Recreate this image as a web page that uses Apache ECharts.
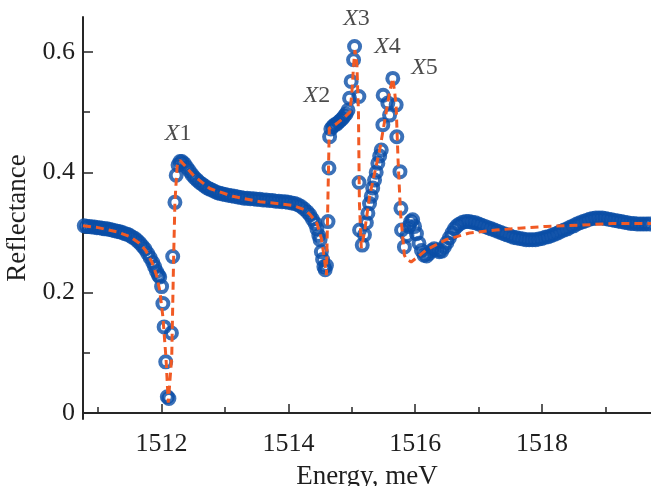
<!DOCTYPE html>
<html>
<head>
<meta charset="utf-8">
<script src="https://cdn.jsdelivr.net/npm/echarts@6/dist/echarts.min.js"></script>
<style>
	html, body { margin: 0; padding: 0; background: #fff; }
	#chart { width: 651px; height: 486px; }
</style>
</head>
<body>
<div id="chart"></div>
<script>
// Puntos medidos (energía meV, reflectancia)
const puntosMedidos = [
	[1510.78, 0.311], [1510.82, 0.310], [1510.86, 0.310], [1510.90, 0.309], [1510.94, 0.309],
	[1510.98, 0.308], [1511.02, 0.308], [1511.06, 0.307], [1511.10, 0.306], [1511.14, 0.306],
	[1511.18, 0.305], [1511.22, 0.304], [1511.26, 0.303], [1511.30, 0.302], [1511.34, 0.301],
	[1511.38, 0.300], [1511.42, 0.298], [1511.46, 0.297], [1511.50, 0.295], [1511.54, 0.292],
	[1511.58, 0.290], [1511.62, 0.286], [1511.66, 0.282], [1511.70, 0.277], [1511.74, 0.272],
	[1511.78, 0.265], [1511.82, 0.258], [1511.86, 0.250], [1511.89, 0.243], [1511.92, 0.235],
	[1511.95, 0.229], [1511.97, 0.226], [1512.00, 0.210], [1512.02, 0.182], [1512.04, 0.143],
	[1512.065, 0.085], [1512.09, 0.027], [1512.115, 0.024], [1512.155, 0.133], [1512.175, 0.260],
	[1512.21, 0.350], [1512.23, 0.395], [1512.26, 0.412], [1512.29, 0.418], [1512.32, 0.418],
	[1512.36, 0.414], [1512.40, 0.408], [1512.44, 0.402], [1512.48, 0.396], [1512.52, 0.391],
	[1512.56, 0.387], [1512.60, 0.383], [1512.64, 0.380], [1512.68, 0.377], [1512.72, 0.374],
	[1512.76, 0.372], [1512.80, 0.370], [1512.84, 0.368], [1512.88, 0.366], [1512.92, 0.365],
	[1512.96, 0.364], [1513.00, 0.363], [1513.05, 0.362], [1513.10, 0.361], [1513.15, 0.360],
	[1513.20, 0.359], [1513.25, 0.358], [1513.30, 0.357], [1513.35, 0.357], [1513.40, 0.356],
	[1513.45, 0.356], [1513.50, 0.355], [1513.55, 0.355], [1513.60, 0.354], [1513.65, 0.354],
	[1513.70, 0.353], [1513.75, 0.353], [1513.80, 0.352], [1513.85, 0.352], [1513.90, 0.351],
	[1513.95, 0.351], [1514.00, 0.350], [1514.05, 0.349], [1514.10, 0.348], [1514.15, 0.346],
	[1514.20, 0.343], [1514.25, 0.339], [1514.30, 0.334], [1514.34, 0.329], [1514.38, 0.322],
	[1514.42, 0.315], [1514.45, 0.306], [1514.48, 0.295], [1514.50, 0.288], [1514.52, 0.268],
	[1514.54, 0.255], [1514.56, 0.243], [1514.58, 0.238], [1514.60, 0.245], [1514.625, 0.318],
	[1514.64, 0.407], [1514.65, 0.459], [1514.67, 0.472], [1514.70, 0.476], [1514.73, 0.479],
	[1514.76, 0.480], [1514.79, 0.483], [1514.82, 0.486], [1514.85, 0.489], [1514.88, 0.493],
	[1514.91, 0.497], [1514.94, 0.503], [1514.965, 0.523], [1514.99, 0.551], [1515.028, 0.587],
	[1515.044, 0.609], [1515.112, 0.526], [1515.115, 0.383], [1515.123, 0.304], [1515.165, 0.279],
	[1515.20, 0.296], [1515.23, 0.316], [1515.254, 0.332], [1515.28, 0.348], [1515.307, 0.360],
	[1515.33, 0.374], [1515.359, 0.387], [1515.385, 0.400], [1515.411, 0.415], [1515.44, 0.427],
	[1515.465, 0.437], [1515.49, 0.479], [1515.495, 0.528], [1515.569, 0.515], [1515.596, 0.495],
	[1515.647, 0.556], [1515.70, 0.512], [1515.71, 0.459], [1515.76, 0.401], [1515.775, 0.340],
	[1515.785, 0.304], [1515.83, 0.276], [1515.87, 0.295], [1515.90, 0.310], [1515.93, 0.318],
	[1515.96, 0.321], [1515.99, 0.310], [1516.02, 0.298], [1516.06, 0.282], [1516.10, 0.270],
	[1516.14, 0.262], [1516.18, 0.261], [1516.22, 0.265], [1516.26, 0.270], [1516.30, 0.273],
	[1516.34, 0.271], [1516.38, 0.268], [1516.42, 0.269], [1516.46, 0.276], [1516.50, 0.283],
	[1516.54, 0.291], [1516.58, 0.299], [1516.62, 0.306], [1516.66, 0.311], [1516.70, 0.314],
	[1516.75, 0.317], [1516.80, 0.318], [1516.85, 0.318], [1516.90, 0.317], [1516.95, 0.316],
	[1517.00, 0.314], [1517.05, 0.312], [1517.10, 0.310], [1517.15, 0.308], [1517.20, 0.306],
	[1517.25, 0.304], [1517.30, 0.302], [1517.35, 0.300], [1517.40, 0.298], [1517.45, 0.296],
	[1517.50, 0.294], [1517.55, 0.292], [1517.60, 0.291], [1517.65, 0.290], [1517.70, 0.289],
	[1517.75, 0.288], [1517.80, 0.288], [1517.85, 0.288], [1517.90, 0.288], [1517.95, 0.289],
	[1518.00, 0.290], [1518.05, 0.292], [1518.10, 0.293], [1518.15, 0.295], [1518.20, 0.297],
	[1518.25, 0.299], [1518.30, 0.302], [1518.35, 0.304], [1518.40, 0.306], [1518.45, 0.309],
	[1518.50, 0.311], [1518.55, 0.314], [1518.60, 0.316], [1518.65, 0.318], [1518.70, 0.320],
	[1518.75, 0.322], [1518.80, 0.323], [1518.85, 0.324], [1518.90, 0.324], [1518.95, 0.324],
	[1519.00, 0.323], [1519.05, 0.322], [1519.10, 0.321], [1519.15, 0.320], [1519.20, 0.319],
	[1519.25, 0.318], [1519.30, 0.317], [1519.35, 0.316], [1519.40, 0.315], [1519.45, 0.315],
	[1519.50, 0.314], [1519.55, 0.314], [1519.60, 0.314], [1519.65, 0.314], [1519.70, 0.314]
]

// Curva de ajuste (línea naranja discontinua)
const curvaAjuste = [
	[1510.76, 0.311], [1511.0, 0.308], [1511.3, 0.301], [1511.5, 0.293], [1511.65, 0.282],
	[1511.75, 0.270], [1511.85, 0.250], [1511.92, 0.229], [1511.97, 0.204], [1512.02, 0.160],
	[1512.07, 0.090], [1512.105, 0.017], [1512.16, 0.094], [1512.19, 0.260], [1512.21, 0.350],
	[1512.245, 0.410], [1512.29, 0.420], [1512.35, 0.413], [1512.5, 0.395], [1512.76, 0.373],
	[1513.12, 0.360], [1513.55, 0.351], [1513.82, 0.348], [1514.07, 0.345], [1514.25, 0.338],
	[1514.34, 0.330], [1514.45, 0.315], [1514.52, 0.290], [1514.57, 0.255], [1514.60, 0.229],
	[1514.645, 0.473], [1514.75, 0.480], [1514.87, 0.490], [1514.97, 0.500], [1515.0, 0.530],
	[1515.03, 0.580], [1515.05, 0.603], [1515.08, 0.580], [1515.105, 0.500], [1515.12, 0.350],
	[1515.15, 0.274], [1515.20, 0.300], [1515.28, 0.360], [1515.44, 0.437], [1515.54, 0.498],
	[1515.60, 0.535], [1515.647, 0.556], [1515.68, 0.530], [1515.70, 0.509], [1515.73, 0.420],
	[1515.77, 0.330], [1515.83, 0.262], [1515.86, 0.256], [1515.937, 0.251], [1516.05, 0.260],
	[1516.173, 0.271], [1516.488, 0.288], [1516.855, 0.299], [1517.276, 0.304], [1517.642, 0.307],
	[1518.063, 0.310], [1518.598, 0.312], [1519.11, 0.315], [1519.72, 0.315]
]

// Etiquetas de los picos y su posición en datos
const nombresPicos = ['1', '2', '3', '4', '5']
const posicionesPicos = [
	[1512.26, 0.464], [1514.45, 0.527], [1515.075, 0.655], [1515.564, 0.608], [1516.147, 0.573]
]

// Marcas de los ejes
const xTicksMayores = [1512, 1514, 1516, 1518]
const xTicksMenores = [1511, 1513, 1515, 1517, 1519]
const yTicksMayores = [0, 0.2, 0.4, 0.6]
const yTicksMenores = [0.1, 0.3, 0.5]

const fuente = 'Liberation Serif'
const colorTexto = '#1e1e1e'
const colorEje = '#262626'

const xMin = 1510.76
const xMax = 1519.72
const yMin = -0.01
const yMax = 0.658

function ejeX(ticks, largo, conEtiquetas) {
	return {
		type: 'value',
		min: xMin,
		max: xMax,
		position: 'bottom',
		axisLine: { show: conEtiquetas, lineStyle: { color: colorEje, width: 2 } },
		axisTick: {
			show: true,
			inside: true,
			length: largo,
			customValues: ticks,
			lineStyle: { color: colorEje, width: 1.5 },
		},
		axisLabel: {
			show: conEtiquetas,
			customValues: ticks,
			margin: 12,
			formatter: (v) => String(v),
			fontFamily: fuente,
			fontSize: 26,
			color: colorTexto,
		},
		splitLine: { show: false },
		name: conEtiquetas ? 'Energy, meV' : '',
		nameLocation: 'middle',
		nameGap: 44,
		nameTextStyle: { fontFamily: fuente, fontSize: 27, color: colorTexto },
	}
}

function ejeY(ticks, largo, conEtiquetas) {
	return {
		type: 'value',
		min: yMin,
		max: yMax,
		position: 'left',
		axisLine: { show: conEtiquetas, lineStyle: { color: colorEje, width: 2 } },
		axisTick: {
			show: true,
			inside: true,
			length: largo,
			customValues: ticks,
			lineStyle: { color: colorEje, width: 1.5 },
		},
		axisLabel: {
			show: conEtiquetas,
			customValues: ticks,
			margin: 8,
			formatter: (v) => String(v),
			fontFamily: fuente,
			fontSize: 26,
			color: colorTexto,
		},
		splitLine: { show: false },
		name: conEtiquetas ? 'Reflectance' : '',
		nameLocation: 'middle',
		nameRotate: 90,
		nameGap: 52,
		nameTextStyle: { fontFamily: fuente, fontSize: 27, color: colorTexto },
	}
}

const chart = echarts.init(document.getElementById('chart'), null, { renderer: 'canvas' })

chart.setOption({
	animation: false,
	backgroundColor: '#fff',
	grid: { left: 83, right: 0, top: 17, bottom: 67, containLabel: false, outerBoundsMode: 'none' },
	xAxis: [ejeX(xTicksMayores, 9, true), ejeX(xTicksMenores, 6, false)],
	yAxis: [ejeY(yTicksMayores, 10, true), ejeY(yTicksMenores, 7, false)],
	series: [
		{
			name: 'Medición',
			type: 'scatter',
			data: puntosMedidos,
			symbol: 'circle',
			symbolSize: 11,
			itemStyle: { color: 'rgba(255,255,255,0)', borderColor: '#0a4ea6', borderWidth: 4 },
			clip: true,
		},
		{
			name: 'Ajuste',
			type: 'line',
			data: curvaAjuste,
			showSymbol: false,
			symbol: 'none',
			lineStyle: { color: '#f15a24', width: 3, type: [8, 5] },
			z: 3,
		},
		{
			name: 'Picos',
			type: 'scatter',
			symbolSize: 0,
			data: posicionesPicos,
			label: {
				show: true,
				position: 'inside',
				formatter: (params) => `{i|X}{n|${nombresPicos[params.dataIndex]}}`,
				rich: {
					i: { fontFamily: fuente, fontSize: 24, fontStyle: 'italic', color: colorTexto },
					n: { fontFamily: fuente, fontSize: 24, color: colorTexto },
				},
			},
			z: 4,
		},
	],
})
</script>
</body>
</html>
